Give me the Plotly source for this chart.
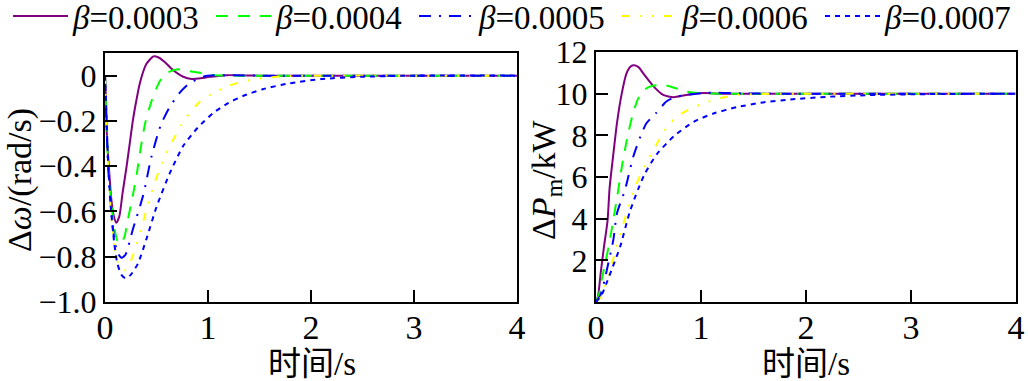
import plotly.graph_objects as go

# ---------------- data ----------------
series_names = ["<i>β</i>=0.0003", "<i>β</i>=0.0004", "<i>β</i>=0.0005", "<i>β</i>=0.0006", "<i>β</i>=0.0007"]

# Left panel: Δω (rad/s)
w_t_0003 = [0, 0.01, 0.02, 0.04, 0.06, 0.08, 0.11, 0.14, 0.17, 0.21, 0.24, 0.27, 0.30, 0.34, 0.40, 0.47, 0.52, 0.58, 0.66, 0.76, 0.84, 0.98, 1.18, 1.5, 2.0, 3.0, 4.0]
w_v_0003 = [0, -0.12, -0.28, -0.42, -0.54, -0.61, -0.65, -0.62, -0.52, -0.40, -0.30, -0.20, -0.12, -0.03, 0.05, 0.085, 0.08, 0.06, 0.025, -0.005, -0.015, -0.008, 0.002, 0, 0, 0, 0]

w_t_0004 = [0, 0.01, 0.03, 0.06, 0.09, 0.12, 0.15, 0.19, 0.22, 0.27, 0.31, 0.35, 0.39, 0.45, 0.53, 0.60, 0.71, 0.82, 0.92, 1.07, 1.3, 1.6, 2.0, 3.0, 4.0]
w_v_0004 = [0, -0.15, -0.38, -0.56, -0.67, -0.73, -0.745, -0.71, -0.64, -0.53, -0.43, -0.31, -0.21, -0.115, -0.026, 0.012, 0.028, 0.02, 0.013, 0.002, 0, 0, 0, 0, 0]

w_t_0005 = [0, 0.01, 0.03, 0.06, 0.09, 0.12, 0.16, 0.20, 0.27, 0.37, 0.45, 0.54, 0.62, 0.72, 0.82, 0.98, 1.2, 1.5, 2.0, 3.0, 4.0]
w_v_0005 = [0, -0.15, -0.40, -0.60, -0.72, -0.78, -0.805, -0.79, -0.68, -0.53, -0.36, -0.22, -0.145, -0.078, -0.034, -0.002, 0.002, 0, 0, 0, 0]

w_t_0006 = [0, 0.01, 0.03, 0.06, 0.09, 0.12, 0.15, 0.19, 0.24, 0.29, 0.35, 0.41, 0.48, 0.56, 0.66, 0.78, 0.92, 1.07, 1.2, 1.34, 1.55, 1.8, 2.2, 3.0, 4.0]
w_v_0006 = [0, -0.15, -0.40, -0.62, -0.75, -0.82, -0.85, -0.86, -0.83, -0.77, -0.68, -0.58, -0.475, -0.38, -0.285, -0.19, -0.115, -0.073, -0.045, -0.026, -0.01, -0.002, 0, 0, 0]

w_t_0007 = [0, 0.01, 0.03, 0.06, 0.09, 0.12, 0.16, 0.20, 0.25, 0.32, 0.40, 0.50, 0.63, 0.76, 0.90, 1.05, 1.20, 1.34, 1.53, 1.79, 2.1, 2.5, 3.0, 4.0]
w_v_0007 = [0, -0.12, -0.38, -0.60, -0.74, -0.83, -0.88, -0.895, -0.88, -0.83, -0.725, -0.58, -0.43, -0.31, -0.23, -0.165, -0.12, -0.09, -0.06, -0.034, -0.015, -0.005, 0, 0]

# Right panel: ΔPm (kW)
p_t_0003 = [0, 0.02, 0.045, 0.076, 0.11, 0.13, 0.165, 0.2, 0.245, 0.29, 0.33, 0.365, 0.41, 0.45, 0.55, 0.64, 0.74, 0.86, 1.02, 1.2, 1.5, 2.0, 3.0, 4.0]
p_v_0003 = [0, 0.3, 1.4, 2.65, 3.9, 5.5, 7.1, 8.6, 10.0, 10.96, 11.3, 11.36, 11.25, 10.97, 10.34, 9.94, 9.83, 9.94, 10.03, 10.0, 10, 10, 10, 10]

p_t_0004 = [0, 0.03, 0.054, 0.085, 0.117, 0.15, 0.20, 0.25, 0.30, 0.355, 0.40, 0.45, 0.52, 0.60, 0.68, 0.76, 0.86, 1.0, 1.2, 2.0, 3.0, 4.0]
p_v_0004 = [0, 0.4, 1.05, 1.8, 2.58, 3.5, 5.0, 6.6, 7.95, 9.1, 9.75, 10.15, 10.35, 10.42, 10.38, 10.26, 10.1, 10.02, 10.0, 10, 10, 10]

p_t_0005 = [0, 0.04, 0.08, 0.117, 0.165, 0.2, 0.276, 0.355, 0.435, 0.48, 0.57, 0.67, 0.76, 0.86, 1.0, 1.15, 1.4, 2.0, 3.0, 4.0]
p_v_0005 = [0, 0.3, 1.0, 1.86, 2.98, 4.26, 5.38, 6.98, 8.1, 8.58, 9.06, 9.62, 9.85, 9.94, 10.02, 10.05, 10.01, 10, 10, 10]

p_t_0006 = [0, 0.054, 0.1, 0.18, 0.24, 0.30, 0.38, 0.467, 0.58, 0.69, 0.8, 0.93, 1.07, 1.2, 1.34, 1.6, 2.0, 3.0, 4.0]
p_v_0006 = [0, 0.26, 1.0, 2.34, 3.4, 4.42, 5.6, 6.58, 7.6, 8.5, 9.0, 9.35, 9.62, 9.8, 9.94, 9.99, 10, 10, 10]

p_t_0007 = [0, 0.05, 0.1, 0.16, 0.23, 0.32, 0.40, 0.467, 0.58, 0.74, 0.93, 1.12, 1.34, 1.59, 1.85, 2.2, 2.6, 3.0, 3.5, 4.0]
p_v_0007 = [0, 0.3, 0.9, 1.7, 2.65, 4.3, 5.4, 6.18, 7.1, 7.95, 8.65, 9.05, 9.35, 9.58, 9.72, 9.85, 9.93, 9.97, 9.99, 10]

w_ticks = [-1.0, -0.8, -0.6, -0.4, -0.2, 0]
w_ticktext = ["−1.0", "−0.8", "−0.6", "−0.4", "−0.2", "0"]
p_ticks = [2, 4, 6, 8, 10, 12]
x_ticks = [0, 1, 2, 3, 4]

# ---------------- styles ----------------
colors = ["#800080", "#00FF00", "#0000FF", "#FFFF00", "#0000FF"]
dashes = ["solid", "12px,10px", "12px,8px,2px,8px", "8px,10px,2px,10px,2px,10px", "5px,5px"]
w_data = [(w_t_0003, w_v_0003), (w_t_0004, w_v_0004), (w_t_0005, w_v_0005), (w_t_0006, w_v_0006), (w_t_0007, w_v_0007)]
p_data = [(p_t_0003, p_v_0003), (p_t_0004, p_v_0004), (p_t_0005, p_v_0005), (p_t_0006, p_v_0006), (p_t_0007, p_v_0007)]

FONT = "'Liberation Serif', 'Times New Roman', 'Noto Sans CJK SC', serif"

fig = go.Figure()
for i in range(5):
    fig.add_trace(go.Scatter(
        x=w_data[i][0], y=w_data[i][1], mode="lines", name=series_names[i],
        line=dict(color=colors[i], width=2, dash=dashes[i], shape="spline", smoothing=0.6),
        xaxis="x", yaxis="y", legendgroup=str(i), showlegend=True))
for i in range(5):
    fig.add_trace(go.Scatter(
        x=p_data[i][0], y=p_data[i][1], mode="lines", name=series_names[i],
        line=dict(color=colors[i], width=2, dash=dashes[i], shape="spline", smoothing=0.6),
        xaxis="x2", yaxis="y2", legendgroup=str(i), showlegend=False))

axis_common = dict(showline=True, linecolor="black", linewidth=2, mirror=True,
                   ticks="inside", ticklen=12, tickwidth=2, tickcolor="black",
                   showgrid=False, zeroline=False, automargin=False)

W, H = 1028, 381
def fx(px):
    return px / W
def fy(px):
    return 1 - px / H

fig.update_layout(
    template="none",
    width=W, height=H,
    margin=dict(l=0, r=0, t=0, b=0, pad=0, autoexpand=False),
    paper_bgcolor="white", plot_bgcolor="white",
    font=dict(family=FONT, size=30, color="black"),
    showlegend=True,
    legend=dict(orientation="h", x=fx(8), xanchor="left", y=fy(-12), yanchor="top",
                font=dict(family=FONT, size=33, color="black"),
                itemwidth=55, entrywidth=133, entrywidthmode="pixels", borderwidth=0,
                bgcolor="rgba(0,0,0,0)", tracegroupgap=0),
    xaxis=dict(domain=[fx(105), fx(517)], range=[0, 4], tickvals=x_ticks,
               tickfont=dict(family=FONT, size=34), ticklabelstandoff=-6, anchor="y", **axis_common),
    yaxis=dict(domain=[fy(302), fy(53)], range=[-1.0, 0.1], tickvals=w_ticks,
               ticktext=w_ticktext, tickfont=dict(family=FONT, size=32), anchor="x", **axis_common),
    xaxis2=dict(domain=[fx(596), fx(1016)], range=[0, 4], tickvals=x_ticks,
                tickfont=dict(family=FONT, size=34), ticklabelstandoff=-6, anchor="y2", **axis_common),
    yaxis2=dict(domain=[fy(302), fy(52)], range=[0, 12], tickvals=p_ticks,
                tickfont=dict(family=FONT, size=32), anchor="x2", **axis_common),
)

annotations = [
    dict(text="Δ<i>ω</i>/(rad/s)", x=fx(20), y=fy(180), xref="paper", yref="paper",
         textangle=-90, showarrow=False, font=dict(family=FONT, size=34), xanchor="center", yanchor="middle"),
    dict(text="Δ<i>P</i><sub>m</sub>/kW", x=fx(546), y=fy(180), xref="paper", yref="paper",
         textangle=-90, showarrow=False, font=dict(family=FONT, size=34), xanchor="center", yanchor="middle"),
    dict(text="时间/s", x=fx(312), y=fy(364), xref="paper", yref="paper",
         showarrow=False, font=dict(family=FONT, size=33), xanchor="center", yanchor="middle"),
    dict(text="时间/s", x=fx(806), y=fy(364), xref="paper", yref="paper",
         showarrow=False, font=dict(family=FONT, size=33), xanchor="center", yanchor="middle"),
]
fig.update_layout(annotations=annotations)

fig.write_html("out.html", config={"displayModeBar": False},
               post_script="document.body.style.margin='0px';document.body.style.overflow='hidden';")
